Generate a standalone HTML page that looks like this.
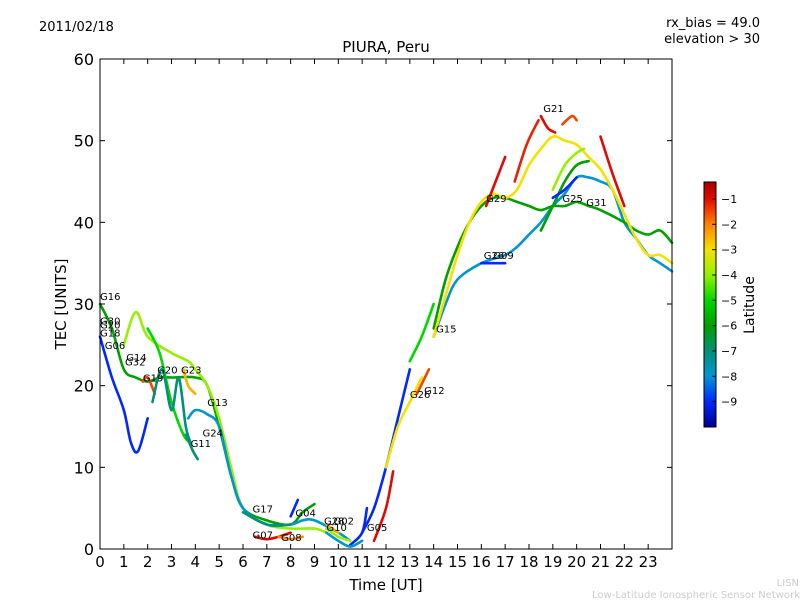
<!DOCTYPE html>
<html><head><meta charset="utf-8"><style>
body{margin:0;background:#fff;font-family:"DejaVu Sans","Liberation Sans",sans-serif}
svg text{font-family:"DejaVu Sans","Liberation Sans",sans-serif}
</style></head><body>
<svg id="c" width="800" height="600" xmlns="http://www.w3.org/2000/svg">
<rect width="800" height="600" fill="#fff"/>
<text x="39" y="31" font-size="13">2011/02/18</text>
<text x="760" y="27" font-size="13" text-anchor="end">rx_bias = 49.0</text>
<text x="760" y="43" font-size="13" text-anchor="end">elevation &gt; 30</text>
<text x="386" y="52" font-size="15" text-anchor="middle">PIURA, Peru</text>
<text x="386" y="590" font-size="15" text-anchor="middle">Time [UT]</text>
<text x="66" y="304" font-size="15" text-anchor="middle" transform="rotate(-90 66 304)">TEC [UNITS]</text>
<text x="799" y="586" font-size="10" fill="#ccc" text-anchor="end">LISN</text>
<text x="800" y="598" font-size="10" fill="#ccc" text-anchor="end">Low-Latitude Ionospheric Sensor Network</text>
<g id="plot"></g>
</svg>
<script>
const xTicks=[0,1,2,3,4,5,6,7,8,9,10,11,12,13,14,15,16,17,18,19,20,21,22,23];
const yTicks=[0,10,20,30,40,50,60];
const cbTicks=[-1,-2,-3,-4,-5,-6,-7,-8,-9];
const trackNames=["G16","G06","G32","G24","G19","G23","G07","G04","G05","G10","G28","G26","G12a","G12b","G12c","G15a","G31","G15b","G29","G29b","G21","G21b","G21c","G25y","G25g","G09","G25","G20","G13","G11","G17","G08","G02","G21d"];
const trackLat=[-6,-9,-4,-8,-1.5,-2.5,-1,-9,-9,-8,-2.5,-9,-1,-3,-1.5,-5,-8,-6,-3,-1,-1,-1.5,-1,-4,-6,-9,-9,-5,-7,-7,-7,-2,-4,-1.2];
const trackPts=[
[[0,30],[0.5,27],[1,22],[1.5,21],[2,20.5],[2.5,21],[3,21],[4,21],[4.5,20],[5,15],[5.5,9],[6,5],[7,3.5],[8,3],[8.5,4.5],[9,5.5]],
[[0,26],[0.5,21],[1,17],[1.3,13],[1.6,12],[2,16]],
[[1,25],[1.5,29],[2,26],[3,24],[3.7,23],[4,22],[4.5,20],[5,16],[5.5,10],[6,5],[7,3],[8,2.5],[9,2.5],[9.5,2]],
[[3.7,16],[4,17],[4.5,16.5],[5,15],[5.5,9],[6,5],[7,3],[8,3],[8.5,3.5],[9,3.5],[10,2],[10.5,1]],
[[1.8,20.5],[2,21],[2.3,19]],
[[3.5,22],[3.7,20],[4,19]],
[[6.5,1.5],[7,1.2],[7.5,1.5],[8,2]],
[[8,4],[8.3,6]],
[[10.5,0.5],[11,2],[11.2,5]],
[[9.5,2],[10,1],[10.5,0.3],[11,1]],
[[9.5,3],[10,2]],
[[11,2],[11.5,5],[12,10],[12.5,16],[13,22]],
[[11.5,1],[12,5],[12.3,9.5]],
[[12,10],[12.5,15],[13,18],[13.5,21]],
[[13.3,19],[13.8,22]],
[[13,23],[13.5,26],[14,30]],
[[14,26],[14.5,30],[15,33],[16,35],[17,36],[17.5,37],[18,38.5],[18.5,40],[19,42],[19.5,43.5],[20,45.5],[20.5,45.5],[21,45],[21.5,44],[22,40],[22.5,38],[23,36],[23.5,35],[24,34]],
[[14,27],[14.5,33],[15,37],[15.5,40],[16,42],[16.5,43],[17,43],[17.5,42.5],[18,42],[18.5,41.5],[19,42],[19.5,42],[20,42.5],[20.5,42],[21,41.5],[22,40],[22.5,39],[23,38.5],[23.5,39],[24,37.5]],
[[14,26],[14.5,31],[15,36],[15.5,40],[16,42.5],[16.5,43.5],[17,43],[17.5,44],[18,47],[18.5,49],[19,50.5],[19.5,50],[20,49.5],[20.5,48],[21,46.5],[21.5,44],[22,41],[22.5,38],[23,36],[23.5,36],[24,35]],
[[16.2,42],[16.6,45],[17,48]],
[[18.5,53],[18.8,51.5],[19.1,51]],
[[19.4,52],[19.8,53],[20,52.5]],
[[21,50.5],[21.5,46],[22,42]],
[[19,44],[19.5,47],[20,48.5],[20.3,49]],
[[18.5,39],[19,42],[19.5,45],[20,47],[20.5,47.5]],
[[16,35],[16.5,35],[17,35]],
[[19,43],[19.5,44],[20,45.5]],
[[2,27],[2.5,24],[3,18],[3.5,14],[3.8,13]],
[[2.2,18],[2.6,22],[3,17],[3.3,21],[3.6,15],[3.8,13]],
[[3.6,14],[3.9,12],[4.1,11]],
[[6,4.5],[7,3],[8,3]],
[[7.5,1.5],[8,1.2],[8.5,1.5]],
[[9.5,2.5],[10,1.5],[10.5,1]],
[[17.4,45],[17.9,49.5],[18.4,52.5]]
];
const labels=[["G16",0,30.5],["G30",0,27.5],["G20",0,27],["G18",0,26],["G06",0.2,24.5],["G14",1.1,23],["G32",1.05,22.5],["G19",1.8,20.5],["G20",2.4,21.5],["G23",3.4,21.5],["G13",4.5,17.5],["G24",4.3,13.8],["G11",3.8,12.5],["G17",6.4,4.5],["G07",6.4,1.3],["G08",7.6,1],["G04",8.2,4],["G28",9.4,3],["G02",9.8,3],["G10",9.5,2.2],["G05",11.2,2.2],["G12",13.6,19],["G26",13,18.5],["G15",14.1,26.5],["G29",16.2,42.5],["G26",16.1,35.5],["G09",16.5,35.5],["G21",18.6,53.5],["G25",19.4,42.5],["G31",20.4,42]];
const X0=100,X1=672,Y0=549,Y1=59;
const sx=t=>X0+(t/24)*(X1-X0), sy=v=>Y0-(v/60)*(Y0-Y1);
const NS="http://www.w3.org/2000/svg";
const g=document.getElementById('plot');
function mk(tag,at){const e=document.createElementNS(NS,tag);for(const k in at)e.setAttribute(k,at[k]);g.appendChild(e);return e;}
const LMIN=-10,LMAX=-0.33;
const stopL=[-10,-9,-8,-7,-6,-5,-4,-3,-2,-1,-0.33];
const stopC=[[0,0,140],[0,40,255],[0,150,210],[0,145,120],[0,160,0],[0,215,0],[150,240,0],[245,225,0],[255,130,0],[225,10,0],[165,0,0]];
function latColor(l){l=Math.max(LMIN,Math.min(LMAX,l));let k=0;while(k<stopL.length-2&&l>stopL[k+1])k++;
  const f=(l-stopL[k])/(stopL[k+1]-stopL[k]);const a=stopC[k],b=stopC[k+1];
  return `rgb(${Math.round(a[0]+(b[0]-a[0])*f)},${Math.round(a[1]+(b[1]-a[1])*f)},${Math.round(a[2]+(b[2]-a[2])*f)})`;}
trackPts.forEach((pts,i)=>{
  const P=pts.map(p=>[sx(p[0]),sy(p[1])]);
  let d='M'+P[0][0]+','+P[0][1];
  for(let k=0;k<P.length-1;k++){const p0=P[k-1]||P[k],p1=P[k],p2=P[k+1],p3=P[k+2]||P[k+1];
    d+=` C${p1[0]+(p2[0]-p0[0])/6},${p1[1]+(p2[1]-p0[1])/6} ${p2[0]-(p3[0]-p1[0])/6},${p2[1]-(p3[1]-p1[1])/6} ${p2[0]},${p2[1]}`;}
  const e=mk('path',{d:d,fill:'none',stroke:latColor(trackLat[i]),'stroke-width':2.6,'stroke-linecap':'round','stroke-linejoin':'round'});
  
  
});
labels.forEach(l=>{const e=mk('text',{x:sx(l[1]),y:sy(l[2]),'font-size':10});e.textContent=l[0];
  
  });
const fr=mk('rect',{x:X0,y:Y1,width:X1-X0,height:Y0-Y1,fill:'none',stroke:'#000','stroke-width':1});


xTicks.forEach(t=>{const x=sx(t);mk('line',{x1:x,x2:x,y1:Y0,y2:Y0-5,stroke:'#000'});mk('line',{x1:x,x2:x,y1:Y1,y2:Y1+5,stroke:'#000'});
  const e=mk('text',{x:x,y:Y0+18,'font-size':15,'text-anchor':'middle'});e.textContent=t;
  
  });
yTicks.forEach(v=>{const y=sy(v);mk('line',{x1:X0,x2:X0+5,y1:y,y2:y,stroke:'#000'});mk('line',{x1:X1,x2:X1-5,y1:y,y2:y,stroke:'#000'});
  const e=mk('text',{x:X0-6,y:y+6,'font-size':16,'text-anchor':'end'});e.textContent=v;
  
  });
const CX=704,CW=12,CT=182,CB=427;
for(let i=0;i<CB-CT;i++){mk('rect',{x:CX,y:CT+i,width:CW,height:1.2,fill:latColor(LMAX-(i+0.5)/(CB-CT)*(LMAX-LMIN))});}
const cbf=mk('rect',{x:CX,y:CT,width:CW,height:CB-CT,fill:'none',stroke:'#000'});


cbTicks.forEach(v=>{const y=CB-(v-LMIN)/(LMAX-LMIN)*(CB-CT);mk('line',{x1:CX+CW-4,x2:CX+CW,y1:y,y2:y,stroke:'#000'});
  const e=mk('text',{x:CX+CW+5,y:y+4,'font-size':11});e.textContent='\u2212'+(-v);
  
  });
const cl=mk('text',{x:754,y:305,'font-size':14,'text-anchor':'middle',transform:'rotate(-90 754 305)'});cl.textContent='Latitude';


</script>
</body></html>
